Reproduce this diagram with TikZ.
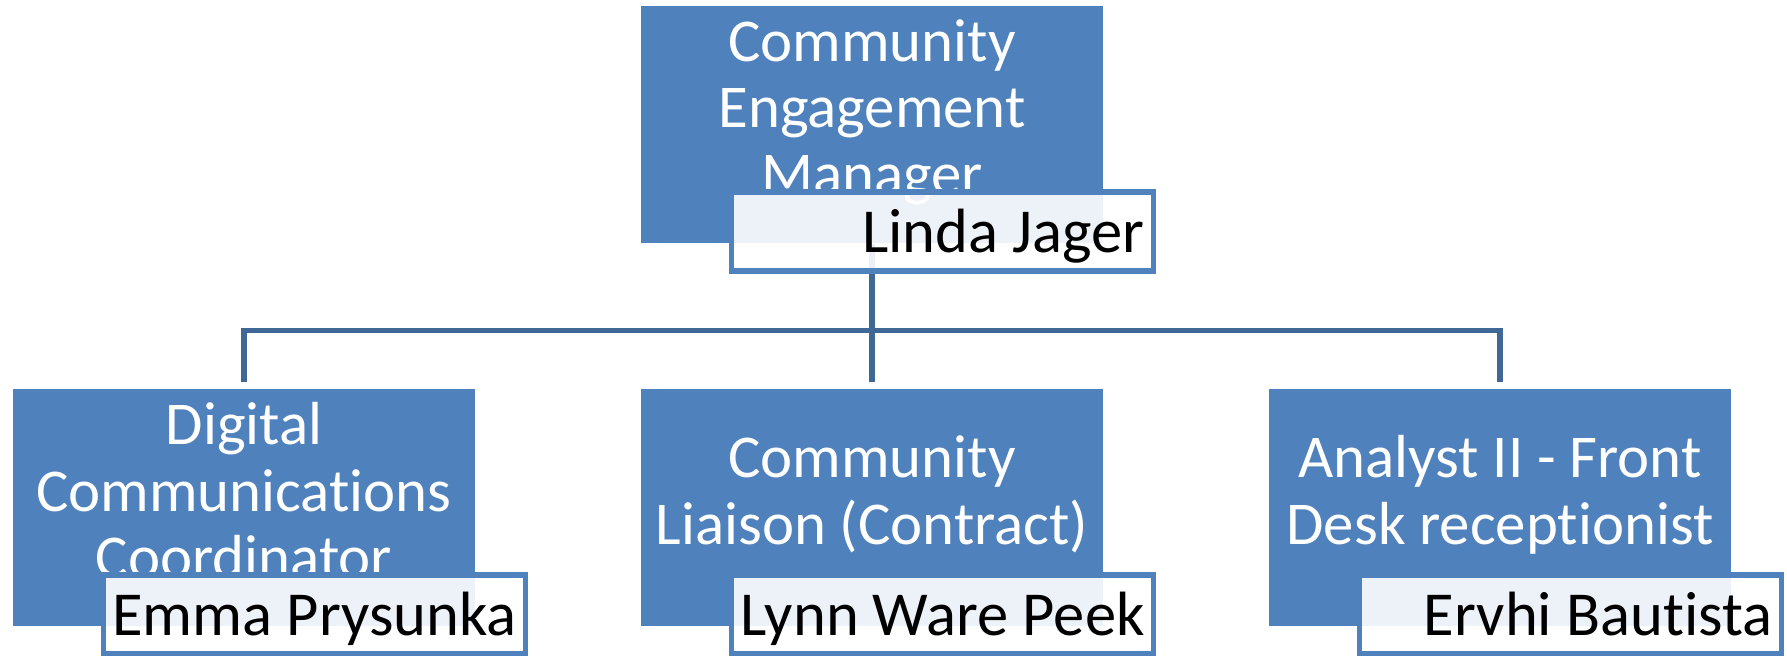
\documentclass[tikz,border=0pt]{standalone}
\usepackage{fontspec}
\setmainfont{Carlito}[Ligatures=NoCommon]
\usepackage{tikz}
\usetikzlibrary{shapes,arrows}
\definecolor{roleblue}{HTML}{4F81BD}
\definecolor{linkblue}{HTML}{3F6897}
\tikzstyle{line} = [draw=linkblue, line width=1.5pt, shorten >=0.06cm]
\tikzstyle{role} = [rectangle, minimum width=4.62cm, minimum height=2.37cm, inner sep=0pt, align=center, fill=roleblue, text=white, font=\fontsize{17.3}{19}\selectfont]
\tikzstyle{person} = [rectangle, minimum width=4.22cm, minimum height=0.79cm, inner xsep=0.09cm, inner ysep=0pt, text height=0.46cm, text depth=0.05cm, draw=roleblue, line width=1.5pt, fill=white, fill opacity=0.9, text opacity=1, font=\fontsize{17.8}{19}\selectfont]
\newcommand{\padrole}{\rule[-0.35cm]{0pt}{0pt}}
\newcommand{\who}[1]{\makebox[4.04cm][r]{#1}}

\begin{document}
\begin{tikzpicture}[node distance = 3.83cm]
	\useasboundingbox (0,0) rectangle (17.87,6.55);
	% Place nodes
	\node [role] (manager) at (8.72,5.305) {Community\\Engagement\\Manager\padrole};
	\node [role, below of=manager] (liaison) {Community\\Liaison (Contract)\padrole};
	\node [role, left of=liaison, node distance=6.28cm] (digital) {Digital\\Communications\\Coordinator\padrole};
	\node [role, right of=liaison, node distance=6.28cm] (desk) {Analyst II - Front\\Desk receptionist\padrole};
	% Draw edges
	\path [line] (manager.south) -- (liaison.north);
	\path [line] (manager.south) -- ++(0,-0.87) -| (digital.north);
	\path [line] (manager.south) -- ++(0,-0.87) -| (desk.north);
	% Name boxes
	\node [person] (jager) at ([xshift=0.705cm,yshift=-1.07cm]manager.center) {\who{Linda Jager}};
	\node [person] (prysunka) at ([xshift=0.705cm,yshift=-1.07cm]digital.center) {\who{Emma Prysunka}};
	\node [person] (peek) at ([xshift=0.705cm,yshift=-1.07cm]liaison.center) {\who{Lynn Ware Peek}};
	\node [person] (bautista) at ([xshift=0.705cm,yshift=-1.07cm]desk.center) {\who{Ervhi Bautista}};
\end{tikzpicture}
\end{document}
